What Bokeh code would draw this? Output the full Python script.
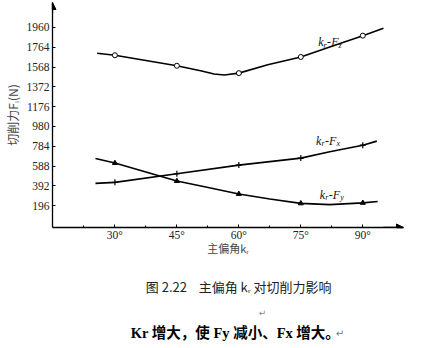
from bokeh.plotting import figure
from bokeh.layouts import column
from bokeh.models import Range1d, FixedTicker, Label, Arrow, NormalHead
from bokeh.core.properties import value
from bokeh.embed import file_html
from bokeh.resources import INLINE

# ---- data ----
kr_ticks = [30, 45, 60, 75, 90]
kr_tick_labels = {30: "30°", 45: "45°", 60: "60°", 75: "75°", 90: "90°"}
force_ticks = [196, 392, 588, 784, 980, 1176, 1372, 1568, 1764, 1960]

kr_marks = [30, 45, 60, 75, 90]
fz_marks = [1685, 1581, 1508, 1668, 1879]
fx_marks = [427, 512, 598, 667, 795]
fy_marks = [618, 440, 312, 219, 224]

fz_curve_kr = [25.7, 30, 45, 51, 54, 56.5, 60, 67, 75, 82, 90, 95.0]
fz_curve_f = [1705, 1685, 1581, 1530, 1500, 1490, 1508, 1590, 1668, 1767, 1879, 1951]
fx_curve_kr = [25.3, 30, 45, 60, 75, 82, 90, 93.4]
fx_curve_f = [417, 427, 512, 598, 667, 730, 795, 835]
fy_curve_kr = [25.3, 30, 45, 52, 60, 67.5, 75, 82, 90, 93.6]
fy_curve_f = [663, 618, 440, 381, 312, 263, 219, 207, 224, 237]

NB = "\u00a0"
caption_lines = [f"图{NB}2.22{NB*4}主偏角{NB}kᵣ{NB}对切削力影响", "Kr 增大，使 Fy 减小、Fx 增大。"]

SERIF = "Liberation Serif"
CJK = "Noto Sans CJK SC"

p = figure(width=426, height=258, output_backend="svg", toolbar_location=None,
           x_range=Range1d(14.9, 99.85), y_range=Range1d(-19.7, 2207),
           min_border_left=50, min_border_right=23, min_border_top=2,
           min_border_bottom=30, background_fill_color="white",
           border_fill_color="white", outline_line_color=None)
p.grid.visible = False

# axes
p.xaxis.ticker = FixedTicker(ticks=kr_ticks, minor_ticks=[22.5, 37.5, 52.5, 67.5, 82.5])
p.xaxis.major_label_overrides = kr_tick_labels
p.xaxis.axis_label = "主偏角kᵣ"
p.xaxis.axis_label_text_font = CJK
p.xaxis.axis_label_text_font_style = "normal"
p.xaxis.axis_label_text_font_size = "11px"
p.xaxis.axis_label_standoff = -4
p.yaxis.ticker = FixedTicker(ticks=force_ticks, minor_ticks=[])
p.yaxis.axis_label = "切削力Fᵢ(N)"
p.yaxis.axis_label_text_font = CJK
p.yaxis.axis_label_text_font_style = "normal"
p.yaxis.axis_label_text_font_size = "12px"
p.yaxis.axis_label_standoff = 3
for ax in (p.xaxis, p.yaxis):
    ax.axis_line_color = "black"
    ax.axis_line_width = 1.3
    ax.major_tick_in = 3
    ax.major_tick_out = 0
    ax.minor_tick_in = 2
    ax.minor_tick_out = 0
    ax.major_tick_line_color = "black"
    ax.minor_tick_line_color = "black"
    ax.major_label_text_font = SERIF
    ax.major_label_text_font_size = "11.5px"
    ax.major_label_text_color = "#222222"
p.yaxis.major_label_standoff = 3
p.xaxis.major_label_standoff = 1

# axis arrows
p.add_layout(Arrow(end=NormalHead(size=7, fill_color="black", line_color="black"),
                   x_start=14.9, y_start=2100, x_end=14.9, y_end=2207,
                   line_color="black", line_width=1.3))
p.add_layout(Arrow(end=NormalHead(size=7, fill_color="black", line_color="black"),
                   x_start=95, y_start=-19.7, x_end=99.85, y_end=-19.7,
                   line_color="black", line_width=1.3))

# curves
for ckr, cf in ((fz_curve_kr, fz_curve_f), (fx_curve_kr, fx_curve_f), (fy_curve_kr, fy_curve_f)):
    p.line(ckr, cf, line_color="black", line_width=1.6)

p.scatter(kr_marks, fz_marks, marker="circle", size=5, fill_color="white",
          line_color="black", line_width=1)
p.scatter(kr_marks, fx_marks, marker="cross", size=6, line_color="black", line_width=1.2)
p.scatter(kr_marks, fy_marks, marker="triangle", size=5, fill_color="black",
          line_color="black")


def curve_label(x, y, sub1, sub2):
    parts = [("k", 12, 0, 5.4), (sub1, 8, 3, 3.4), ("-", 12, 0, 4.2), ("F", 12, 0, 7.4), (sub2, 8, 3, 4)]
    off = 0
    for txt, size, dy, w in parts:
        p.add_layout(Label(x=x, y=y, x_offset=off, y_offset=-dy, text=txt,
                           text_font=SERIF, text_font_style="italic",
                           text_font_size=f"{size}px", text_baseline="middle",
                           text_color="#111111"))
        off += w


curve_label(79.2, 1813, "r", "z")
curve_label(78.7, 838, "r", "x")
curve_label(79.6, 305, "r", "y")

# caption panel (pixel coordinates, y downward)
c = figure(width=426, height=90, output_backend="svg", toolbar_location=None,
           x_range=Range1d(0, 426), y_range=Range1d(90, 0),
           min_border=0, outline_line_color=None,
           background_fill_color="white", border_fill_color="white")
c.axis.visible = False
c.grid.visible = False
c.text(x=[226], y=[28], text=[caption_lines[0]], text_align="center",
       text_baseline="middle", text_font=value(CJK), text_font_size="13px",
       text_color="#222222")
c.text(x=[255], y=[54], text=["↵"], text_align="center",
       text_baseline="middle", text_font=value("DejaVu Sans"), text_font_size="9px",
       text_color="#888888")
c.text(x=[222], y=[74], text=[caption_lines[1]], text_align="center",
       text_baseline="middle", text_font=value("Liberation Serif, Noto Sans CJK SC"),
       text_font_style="bold", text_font_size="14.5px", text_color="black")
c.text(x=[349], y=[75], text=["↵"], text_align="center",
       text_baseline="middle", text_font=value("DejaVu Sans"), text_font_size="10px",
       text_color="#777777")

open("out.html", "w").write(file_html(column(p, c, spacing=0), INLINE))
